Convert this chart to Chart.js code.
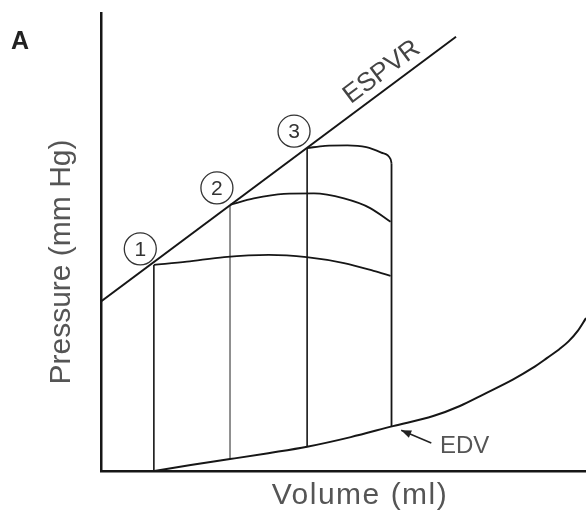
<!DOCTYPE html>
<html><head><meta charset="utf-8">
<script src="https://cdn.jsdelivr.net/npm/chart.js@4/dist/chart.umd.min.js"></script>
<style>html,body{margin:0;padding:0;background:#fff;}canvas{display:block;}</style>
</head><body>
<canvas id="c" width="586" height="513"></canvas>
<script>
// ---- data (arbitrary units: volume 0-100, pressure 0-100) ----
const espvrVol = [0, 73.2];
const espvrPres = [37.0, 94.8];
const edvVol  = [11, 18.5, 26.6, 34.5, 42.5, 51.5, 60.2, 68.5, 74, 79, 85, 89, 92, 94.5, 96.4, 98.3, 100];
const edvPres = [0, 1.3, 2.6, 3.9, 5.3, 7.4, 9.8, 12.0, 14.2, 16.8, 20.0, 22.5, 24.7, 26.6, 28.3, 30.6, 33.4];
const arc1Vol  = [10.9, 17.7, 25.4, 34.6, 42.4, 50.1, 56.2, 59.7];
const arc1Pres = [45.0, 45.7, 46.7, 47.2, 46.7, 45.4, 43.7, 42.6];
const arc2Vol  = [26.6, 31.5, 37.7, 43.9, 50.1, 55.5, 59.7];
const arc2Pres = [58.1, 59.5, 60.5, 60.6, 59.5, 57.4, 54.4];
const arc3Vol  = [42.5, 46.2, 50.8, 54.7, 57.8, 59.7, 59.9];
const arc3Pres = [70.5, 71.0, 71.1, 70.7, 69.5, 68.1, 67.2];
const esVol = [10.9, 26.6, 42.5];
const esTopPres = [45.0, 58.1, 70.5];
const esBasePres = [0, 2.6, 5.3];
const edVol = [59.9, 59.9];
const edPres = [67.2, 9.8];
const markerVol = [8.1, 23.9, 39.8];
const markerPres = [48.5, 61.8, 74.2];
const markerLabels = ['1', '2', '3'];
const curveLabels = ['ESPVR', 'EDV'];
const xTitle = 'Volume (ml)';
const yTitle = 'Pressure (mm Hg)';
const panelLabel = 'A';

const pts = (xs, ys) => xs.map((v, i) => ({x: v, y: ys[i]}));
const INK = '#161616';
const FONT = '"Liberation Sans", Arial, Helvetica, sans-serif';

const lineDs = (data, opts) => Object.assign({
  data, showLine: true, pointRadius: 0, borderColor: INK, borderWidth: 1.8,
  fill: false, tension: 0
}, opts || {});

const datasets = [
  lineDs(pts(espvrVol, espvrPres), {borderWidth: 2}),
  lineDs(pts(edvVol, edvPres), {cubicInterpolationMode: 'monotone', borderWidth: 2}),
  lineDs(pts(arc1Vol, arc1Pres), {cubicInterpolationMode: 'monotone'}),
  lineDs(pts(arc2Vol, arc2Pres), {cubicInterpolationMode: 'monotone'}),
  lineDs(pts(arc3Vol, arc3Pres), {cubicInterpolationMode: 'monotone'}),
];
esVol.forEach((v, i) => {
  datasets.push(lineDs(pts([v, v], [esBasePres[i], esTopPres[i]]),
    {borderWidth: i === 1 ? 1.3 : 1.6, borderColor: i === 1 ? '#555' : INK}));
});
datasets.push(lineDs(pts(edVol, edPres), {borderWidth: 1.8}));
datasets.push({
  data: pts(markerVol, markerPres), showLine: false, pointRadius: 16,
  pointBackgroundColor: '#fff', pointBorderColor: '#333', pointBorderWidth: 1.3,
  pointStyle: 'circle'
});

const labelPlugin = {
  id: 'labels',
  afterDatasetsDraw(chart) {
    const {ctx, scales: {x, y}} = chart;
    const px = v => x.getPixelForValue(v), py = v => y.getPixelForValue(v);
    ctx.save();
    ctx.fillStyle = '#333';
    ctx.textAlign = 'center';
    ctx.textBaseline = 'middle';
    ctx.font = '21px ' + FONT;
    markerLabels.forEach((t, i) => ctx.fillText(t, px(markerVol[i]), py(markerPres[i]) + 1));

    // ESPVR label along the line
    const ang = Math.atan2(py(espvrPres[1]) - py(espvrPres[0]), px(espvrVol[1]) - px(espvrVol[0]));
    ctx.save();
    ctx.translate(px(57.9), py(87.1));
    ctx.rotate(ang);
    ctx.font = '26px ' + FONT;
    ctx.fillStyle = '#444';
    ctx.fillText(curveLabels[0], 0, 0);
    ctx.restore();

    // EDV label + arrow
    ctx.font = '24px ' + FONT;
    ctx.fillStyle = '#555';
    ctx.textAlign = 'left';
    ctx.textBaseline = 'alphabetic';
    ctx.fillText(curveLabels[1], px(69.9), py(3.9));
    const sx = px(68.1), sy = py(6.1), ex = px(61.9), ey = py(8.9);
    ctx.strokeStyle = '#222';
    ctx.lineWidth = 1.5;
    ctx.beginPath(); ctx.moveTo(sx, sy); ctx.lineTo(ex, ey); ctx.stroke();
    const a = Math.atan2(ey - sy, ex - sx);
    ctx.fillStyle = '#222';
    ctx.beginPath();
    ctx.moveTo(ex, ey);
    ctx.lineTo(ex - 10 * Math.cos(a) + 4 * Math.sin(a), ey - 10 * Math.sin(a) - 4 * Math.cos(a));
    ctx.lineTo(ex - 10 * Math.cos(a) - 4 * Math.sin(a), ey - 10 * Math.sin(a) + 4 * Math.cos(a));
    ctx.closePath(); ctx.fill();
    ctx.restore();
  },
  afterDraw(chart) {
    const {ctx} = chart;
    ctx.save();
    ctx.fillStyle = '#555';
    ctx.font = '30px ' + FONT;
    ctx.textAlign = 'center';
    ctx.textBaseline = 'alphabetic';
    try { ctx.letterSpacing = '1.5px'; } catch (e) {}
    ctx.fillText(xTitle, 360, 504);
    try { ctx.letterSpacing = '0px'; } catch (e) {}
    ctx.save();
    ctx.translate(70, 262);
    ctx.rotate(-Math.PI / 2);
    ctx.fillText(yTitle, 0, 0);
    ctx.restore();
    ctx.fillStyle = '#222';
    ctx.font = 'bold 25px ' + FONT;
    ctx.textBaseline = 'middle';
    ctx.fillText(panelLabel, 20, 42);
    ctx.restore();
  }
};

new Chart(document.getElementById('c'), {
  type: 'scatter',
  data: {datasets},
  options: {
    responsive: false,
    animation: false,
    devicePixelRatio: 1,
    layout: {autoPadding: false, padding: {left: 101, top: 13, right: 0, bottom: 42}},
    plugins: {legend: {display: false}, tooltip: {enabled: false}},
    scales: {
      x: {
        type: 'linear', min: 0, max: 100,
        ticks: {display: false},
        grid: {display: false, drawTicks: false},
        border: {display: true, color: INK, width: 2.5},
        title: {display: false}
      },
      y: {
        type: 'linear', min: 0, max: 100,
        ticks: {display: false},
        grid: {display: false, drawTicks: false},
        border: {display: true, color: INK, width: 2.5},
        title: {display: false}
      }
    }
  },
  plugins: [labelPlugin]
});
</script>
</body></html>
